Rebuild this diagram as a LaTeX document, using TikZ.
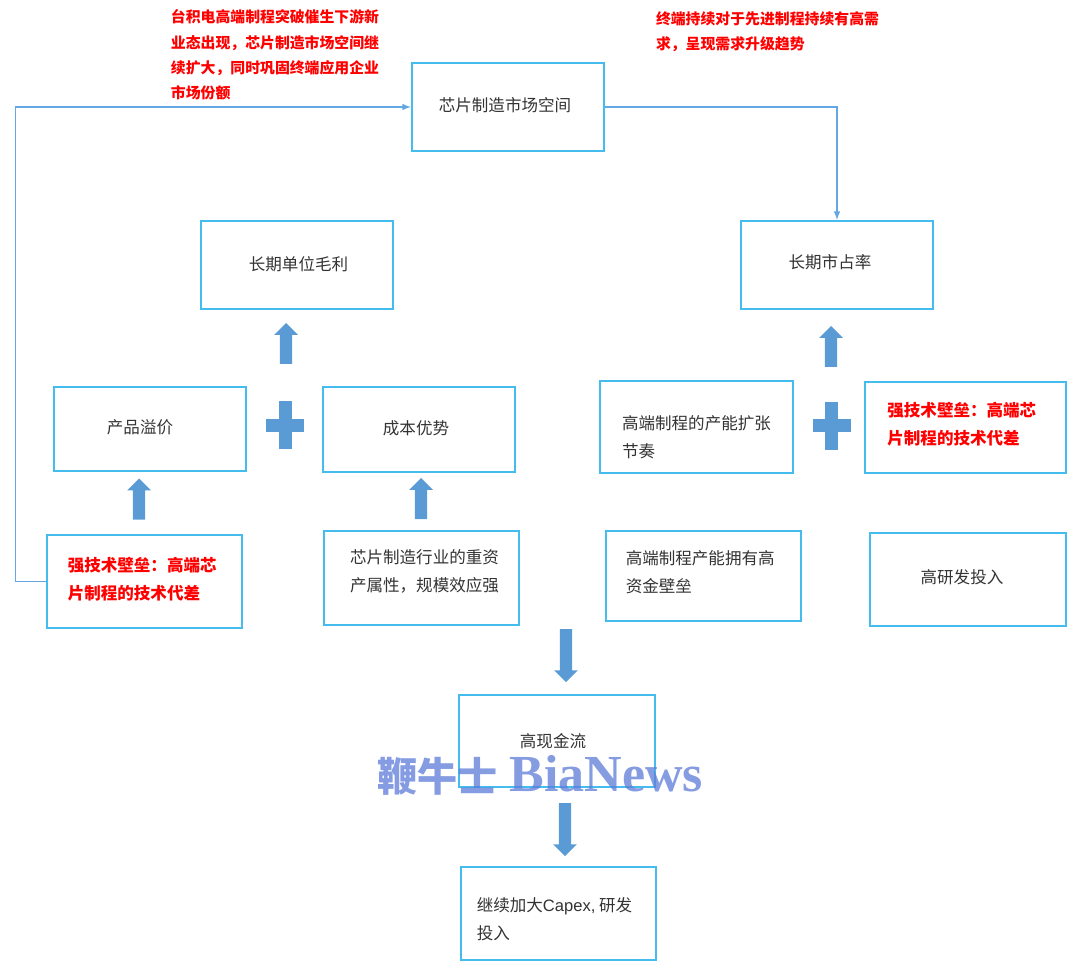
\documentclass[tikz,border=0pt]{standalone}
\usepackage{fontspec}
\setmainfont{Noto Sans CJK SC}
\newfontfamily\markfont{Liberation Serif}
\newfontfamily\latinfont{Liberation Sans}
\usetikzlibrary{shapes.arrows}
\definecolor{boxblue}{HTML}{45BCEE}
\definecolor{linkblue}{HTML}{62A9E4}
\definecolor{blockblue}{HTML}{5B9BD5}
\definecolor{markblue}{HTML}{5D7BD8}
% move a label inside its box, in pixels
\newcommand{\nudge}[3]{\hspace*{\dimexpr #1pt*3/4\relax}\raisebox{\dimexpr #2pt*3/4\relax}[\height][\depth]{#3}\hspace*{-\dimexpr #1pt*3/4\relax}}
\newcommand{\twolines}[4]{\nudge{#1}{#2}{\begin{tabular}{@{}l@{}}#3\\#4\end{tabular}}}
\tikzset{
    box/.style={draw=boxblue,line width=1.6pt,fill=white,inner sep=0pt,align=left,
        minimum width=144pt,minimum height=66pt,
        font=\fontsize{12.4pt}{21pt}\selectfont,text=black!80},
    redbox/.style={box,text=red,font=\fontsize{12.4pt}{21pt}\selectfont\bfseries},
    note/.style={inner sep=0pt,align=left,text=red,font=\fontsize{11.15pt}{19pt}\selectfont\bfseries},
    link/.style={draw=linkblue,line width=1.2pt,-latex},
    block/.style={single arrow,fill=blockblue,inner sep=0pt,text height=11.5*.75pt,text depth=0pt,
        minimum height=41*.75pt,minimum width=23*.75pt,single arrow head extend=5.75*.75pt,
        single arrow head indent=0pt},
    plusbar/.style={fill=blockblue,inner sep=0pt}
}
\begin{document}
\begin{tikzpicture}[x=.75pt,y=-.75pt]
        \useasboundingbox (0,0) rectangle (1080,971);
        % boxes
        \node (market) at (508,107) [box]{\nudge{-3}{2}{芯片制造市场空间}};
        \node (margin) at (297,265) [box]{\nudge{1.5}{1}{长期单位毛利}};
        \node (share) at (837,265) [box]{\nudge{-7}{3}{长期市占率}};
        \node (premium) at (150,429) [box,minimum height=63pt]{\nudge{-10}{2}{产品溢价}};
        \node (cost) at (419,429.5) [box,minimum height=64pt]{\nudge{-3}{1}{成本优势}};
        \node (capacity) at (696.5,427) [box,minimum width=145pt,minimum height=69pt]{\twolines{0}{-11}{高端制程的产能扩张}{节奏}};
        \node (barrier) at (965.5,427.5) [redbox,minimum width=151pt,minimum height=68pt]{\twolines{-3.7}{3}{强技术壁垒：高端芯}{片制程的技术代差}};
        \node (tech) at (144.5,581.5) [redbox,minimum width=146pt,minimum height=70pt]{\twolines{-2.3}{2}{强技术壁垒：高端芯}{片制程的技术代差}};
        \node (heavy) at (421.5,578) [box,minimum width=146pt,minimum height=70pt]{\twolines{3}{6}{芯片制造行业的重资}{产属性，规模效应强}};
        \node (fund) at (703.5,576) [box,minimum width=146pt,minimum height=67pt]{\twolines{-3.3}{3}{高端制程产能拥有高}{资金壁垒}};
        \node (rd) at (968,579.5) [box,minimum width=147pt,minimum height=70pt]{\nudge{-6}{2}{高研发投入}};
        \node (cash) at (557,741) [box,minimum width=147pt,minimum height=69pt]{\nudge{-4}{0}{高现金流}};
        \node (capex) at (558.5,913.5) [box,minimum width=146pt,minimum height=70pt]{\twolines{-4}{-6}{继续加大{\latinfont Capex,} 研发}{投入}};
        % red notes
        \node (noteleft) at (275,55) [note]{台积电高端制程突破催生下游新\\业态出现，芯片制造市场空间继\\续扩大，同时巩固终端应用企业\\市场份额};
        \node (noteright) at (767.5,32) [note]{终端持续对于先进制程持续有高需\\求，呈现需求升级趋势};
        % connectors
        \draw[link] (tech.west) -- ++(-30.5,0) |- (market.west);
        \draw[link] (market.east) -| (share.north);
        % block arrows
        \node (upmargin) at (286,346.5) [block,rotate=90]{};
        \node (uppremium) at (139,502) [block,rotate=90]{};
        \node (upcost) at (421,501.5) [block,rotate=90]{};
        \node (upshare) at (831,349.5) [block,rotate=90]{};
        \node (downcash) at (566,652.5) [block,rotate=-90,minimum height=53*.75pt]{};
        \node (downcapex) at (565,826.5) [block,rotate=-90,minimum height=53*.75pt]{};
        % plus signs
        \foreach \name/\px/\py in {plusleft/285/425,plusright/831.5/425.5}{
            \node (\name v) at (\px,\py) [plusbar,minimum width=13*.75pt,minimum height=48*.75pt]{};
            \node (\name h) at (\px,\py) [plusbar,minimum width=38*.75pt,minimum height=13*.75pt]{};
        }
        % watermark
        \node (mark) at (540.5,775.5) [inner sep=0pt,text=markblue,opacity=.75,font=\fontsize{39pt}{39pt}\selectfont]{\textbf{\fontsize{30pt}{30pt}\selectfont 鞭牛士} {\markfont\bfseries BiaNews}};
    \end{tikzpicture}
\end{document}
